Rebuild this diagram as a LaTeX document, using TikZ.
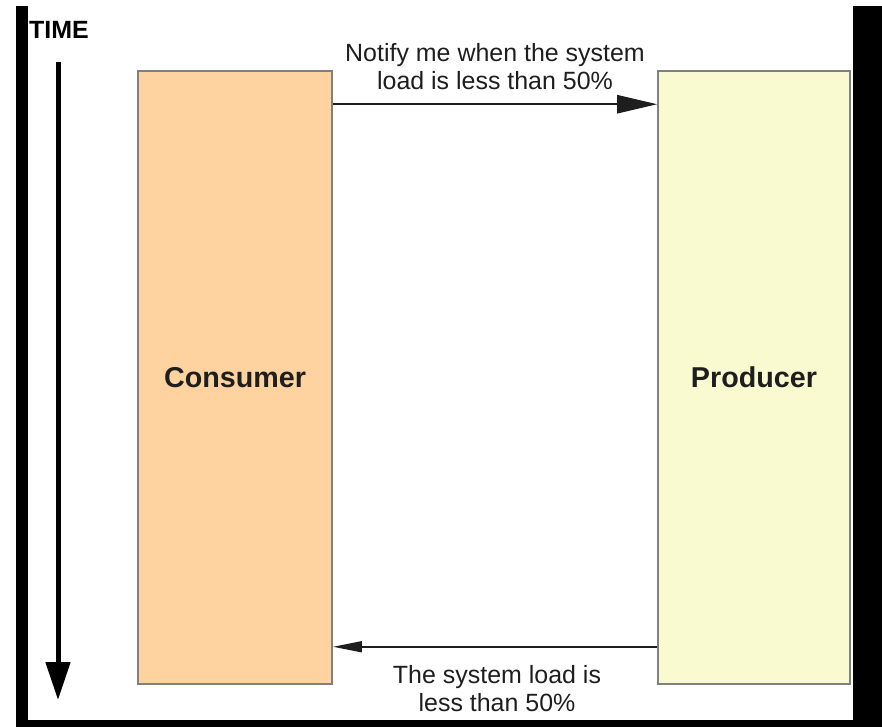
\documentclass[tikz,border=0pt]{standalone}
\usepackage{fontspec}
\setmainfont{Liberation Sans}
\usetikzlibrary{arrows.meta}
\definecolor{consumerfill}{RGB}{254,211,160}
\definecolor{producerfill}{RGB}{250,250,208}
\definecolor{inkgray}{RGB}{30,30,30}

\begin{document}
\begin{tikzpicture}[x=0.03cm,y=-0.03cm,
	party/.style={draw=black!50, line width=0.045cm, minimum height=18.39cm, inner sep=0pt, text=inkgray, font=\bfseries\fontsize{24.5}{28}\selectfont},
	msgtext/.style={align=center, inner sep=0pt, text=inkgray, font=\fontsize{21.3}{23.9}\selectfont},
	msg/.style={draw=inkgray, line width=0.075cm}]
	\useasboundingbox (0,0) rectangle (882,727);
	\fill[black] (16,6) rectangle (28,727);
	\fill[black] (853,6) rectangle (882,727);
	\fill[black] (16,720) rectangle (882,727);
	\node[anchor=base west, inner sep=0pt, font=\bfseries\fontsize{21.3}{24}\selectfont] (time) at (29,38) {TIME};
	\coordinate (timetop) at (58,62);
	\coordinate (timebot) at (58,700);
	\draw[line width=0.15cm, -{Triangle[length=1.14cm,width=0.72cm]}] (timetop) -- (timebot);
	\node[party, fill=consumerfill, minimum width=5.82cm] (consumer) at (235,377.5) {Consumer};
	\node[party, fill=producerfill, minimum width=5.76cm] (producer) at (754,377.5) {Producer};
	\draw[msg, -{Triangle[length=1.2cm,width=0.54cm]}] ([yshift=-1.02cm]consumer.north east) -- ([yshift=-1.02cm]producer.north west);
	\draw[msg, -{Triangle[length=0.87cm,width=0.32cm]}] ([yshift=1.14cm]producer.south west) -- ([yshift=1.14cm]consumer.south east);
	\node[msgtext] (asktext) at (495,67) {Notify me when the system\\load is less than 50\%};
	\node[msgtext] (replytext) at (497,689) {The system load is\\less than 50\%};
\end{tikzpicture}
\end{document}
